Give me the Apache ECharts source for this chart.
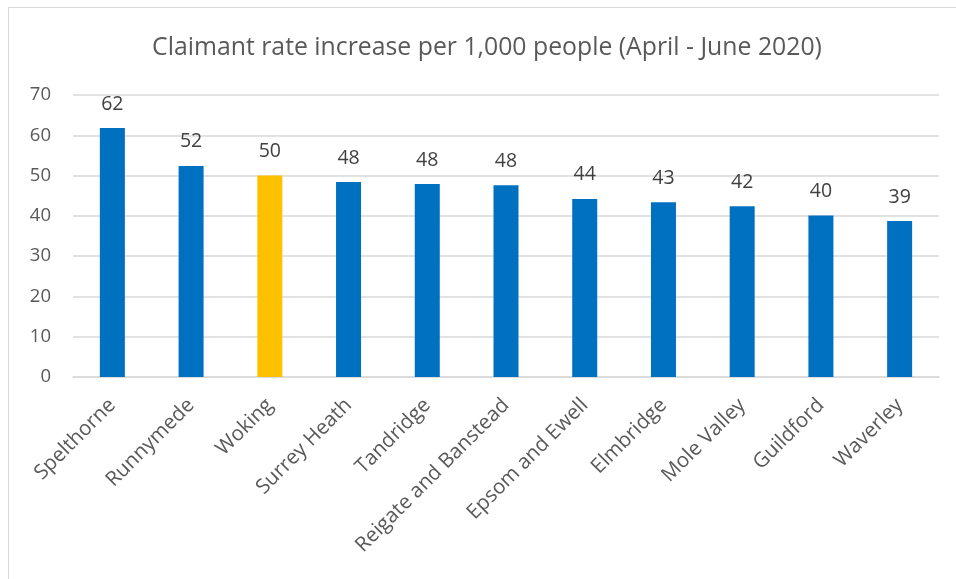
<!DOCTYPE html>
<html>
<head>
<meta charset="utf-8">
<script src="https://cdn.jsdelivr.net/npm/echarts@6/dist/echarts.min.js"></script>
<style>
html,body{margin:0;padding:0;background:#fff;}
#frame{position:absolute;left:8px;top:7px;width:960px;height:600px;border:1px solid #d9d9d9;box-sizing:border-box;}
#chart{position:absolute;left:0;top:0;width:956px;height:579px;}
</style>
</head>
<body>
<div id="frame"></div>
<div id="chart"></div>
<script>
var titleText = 'Claimant rate increase per 1,000 people (April - June 2020)';
var categories = ['Spelthorne','Runnymede','Woking','Surrey Heath','Tandridge','Reigate and Banstead','Epsom and Ewell','Elmbridge','Mole Valley','Guildford','Waverley'];
var values = [61.8, 52.4, 50.0, 48.4, 47.9, 47.6, 44.2, 43.4, 42.4, 40.1, 38.7];
var highlight = 'Woking';
var yTicks = [0, 10, 20, 30, 40, 50, 60, 70];

var font = '"Open Sans", "Noto Sans", sans-serif';
var chart = echarts.init(document.getElementById('chart'));
chart.setOption({
  animation: false,
  title: {
    text: titleText,
    left: 482, top: 30, textAlign: 'center',
    textStyle: {fontFamily: font, fontSize: 24.8, fontWeight: 'normal', color: '#595959'}
  },
  grid: {left: 73, right: 17, top: 95, bottom: 202},
  xAxis: {
    type: 'category',
    data: categories,
    axisLine: {lineStyle: {color: '#d9d9d9', width: 1.5}},
    axisTick: {show: false},
    axisLabel: {rotate: 45, margin: 25, fontFamily: font, fontSize: 20.5, color: '#595959', interval: 0}
  },
  yAxis: {
    type: 'value',
    min: yTicks[0], max: yTicks[yTicks.length - 1], interval: 10,
    axisLine: {show: false},
    axisTick: {show: false},
    splitLine: {lineStyle: {color: '#d9d9d9', width: 1.5}},
    axisLabel: {margin: 22, fontFamily: font, fontSize: 18.5, color: '#595959'}
  },
  series: [{
    type: 'bar',
    barWidth: 25,
    data: values.map(function (v, i) {
      return {value: v, itemStyle: {color: categories[i] === highlight ? '#FFC000' : '#0070C0'}};
    }),
    label: {
      show: true, position: 'top', distance: 14,
      fontFamily: font, fontSize: 19.5, color: '#404040',
      formatter: function (p) { return Math.round(p.value); }
    }
  }]
});
</script>
</body>
</html>
